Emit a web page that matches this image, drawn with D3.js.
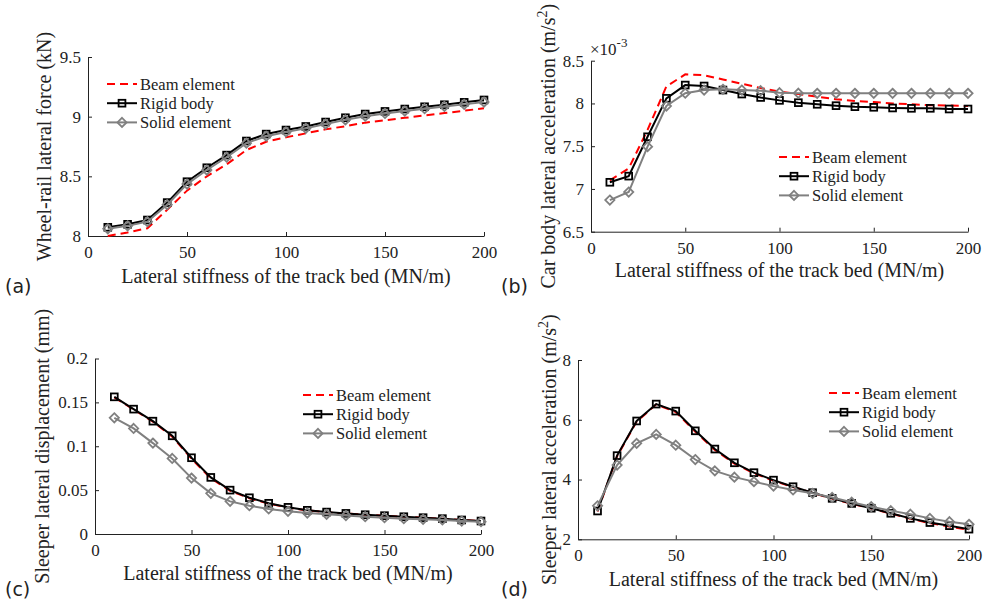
<!DOCTYPE html>
<html>
<head>
<meta charset="utf-8">
<script src="https://cdn.jsdelivr.net/npm/d3@7"></script>
<style>
  html, body { margin: 0; padding: 0; background: #fff; }
  svg { display: block; }
</style>
</head>
<body>
<svg id="chart" width="988" height="602"></svg>
<script>
// ---------------- data ----------------
const stiffness = [10,20,30,40,50,60,70,80,90,100,110,120,130,140,150,160,170,180,190,200];
const seriesNames = ["Beam element", "Rigid body", "Solid element"];

// (a) Wheel-rail lateral force (kN)
const forceBeam  = [8.00,8.03,8.065,8.22,8.38,8.50,8.60,8.72,8.79,8.827,8.86,8.894,8.92,8.95,8.97,8.99,9.01,9.03,9.05,9.07];
const forceRigid = [8.073,8.098,8.134,8.28,8.455,8.572,8.678,8.796,8.854,8.888,8.918,8.955,8.991,9.022,9.044,9.064,9.083,9.10,9.12,9.14];
const forceSolid = [8.06,8.085,8.12,8.262,8.435,8.553,8.66,8.778,8.836,8.872,8.902,8.938,8.973,9.004,9.027,9.047,9.067,9.086,9.103,9.122];
const forceTicks = [8, 8.5, 9, 9.5];

// (b) Car body lateral acceleration (x10^-3 m/s^2)
const carBeam  = [7.10,7.24,7.69,8.20,8.34,8.33,8.28,8.23,8.18,8.14,8.11,8.08,8.05,8.03,8.017,8.00,7.99,7.98,7.975,7.97];
const carRigid = [7.078,7.15,7.61,8.06,8.215,8.204,8.157,8.11,8.07,8.036,8.009,7.99,7.974,7.962,7.955,7.947,7.943,7.943,7.935,7.935];
const carSolid = [6.87,6.964,7.495,7.97,8.12,8.157,8.165,8.157,8.149,8.126,8.12,8.118,8.118,8.118,8.118,8.118,8.118,8.118,8.118,8.118];
const carTicks = [6.5, 7, 7.5, 8, 8.5];

// (c) Sleeper lateral displacement (mm)
const dispBeam  = [0.1558,0.1418,0.1280,0.1110,0.0858,0.0635,0.0493,0.0408,0.0346,0.0301,0.0268,0.0248,0.0233,0.0219,0.0208,0.0196,0.0185,0.0174,0.0159,0.0147];
const dispRigid = [0.1563,0.1423,0.1286,0.1119,0.0869,0.0645,0.0500,0.0413,0.0350,0.0304,0.0270,0.0250,0.0235,0.0220,0.0209,0.0197,0.0186,0.0175,0.0160,0.0148];
const dispSolid = [0.1324,0.1203,0.1036,0.0861,0.0637,0.0463,0.0372,0.0322,0.0285,0.0258,0.0239,0.0224,0.0210,0.0197,0.0186,0.0175,0.0167,0.0160,0.0148,0.0140];
const dispTicks = [0, 0.05, 0.1, 0.15, 0.2];

// (d) Sleeper lateral acceleration (m/s^2)
const slpBeam  = [2.93,4.78,5.94,6.51,6.26,5.60,4.99,4.53,4.21,3.96,3.75,3.55,3.36,3.19,3.03,2.86,2.69,2.54,2.43,2.31];
const slpRigid = [2.947,4.80,5.96,6.525,6.29,5.63,5.02,4.56,4.23,3.98,3.76,3.56,3.37,3.20,3.04,2.87,2.70,2.56,2.455,2.34];
const slpSolid = [3.12,4.485,5.21,5.51,5.15,4.67,4.29,4.08,3.93,3.78,3.65,3.54,3.40,3.24,3.09,2.96,2.84,2.70,2.59,2.50];
const slpTicks = [2, 4, 6, 8];

const xTicks = [0, 50, 100, 150, 200];
const xLabel = "Lateral stiffness of the track bed (MN/m)";

// ---------------- drawing ----------------
const SERIF = "'Liberation Serif', 'Times New Roman', serif";
const svg = d3.select("#chart");
const fmt = d => String(+d.toFixed(3));

const styles = [
  {color: "#ff0000", width: 2, dash: "8,5", marker: null},
  {color: "#000000", width: 2, dash: null, marker: "square"},
  {color: "#808080", width: 2, dash: null, marker: "diamond"}
];

function marker(g, type, x, y, color) {
  if (type === "square") {
    g.append("rect").attr("x", x - 3.4).attr("y", y - 3.4).attr("width", 6.8).attr("height", 6.8)
      .attr("fill", "none").attr("stroke", color).attr("stroke-width", 1.8);
  } else if (type === "diamond") {
    const s = 4.6;
    g.append("path").attr("d", `M${x},${y - s}L${x + s},${y}L${x},${y + s}L${x - s},${y}Z`)
      .attr("fill", "none").attr("stroke", color).attr("stroke-width", 1.8);
  }
}

function txt(sel) { return sel.style("font-family", SERIF).attr("fill", "#222"); }

function panel(cfg) {
  const g = svg.append("g");
  const x = d3.scaleLinear().domain([0, 200]).range(cfg.xr);
  const y = d3.scaleLinear().domain(cfg.yd).range(cfg.yr);

  // axes (ticks inside)
  const xa = g.append("g").attr("transform", `translate(0,${cfg.yr[0]})`)
    .call(d3.axisBottom(x).tickValues(xTicks).tickFormat(fmt).tickSizeInner(-4).tickSizeOuter(0).tickPadding(10));
  const ya = g.append("g").attr("transform", `translate(${cfg.xr[0]},0)`)
    .call(d3.axisLeft(y).tickValues(cfg.ticks).tickFormat(fmt).tickSizeInner(-4).tickSizeOuter(0).tickPadding(7));
  [xa, ya].forEach(a => {
    a.attr("font-family", null).attr("font-size", null);
    a.select(".domain").attr("stroke", "#222").attr("stroke-width", 1);
    a.selectAll(".tick line").attr("stroke", "#222");
    txt(a.selectAll(".tick text")).style("font-size", "17px");
  });

  // series
  const line = d3.line().x((d, i) => x(stiffness[i])).y(d => y(d));
  cfg.series.forEach((vals, k) => {
    const st = styles[k];
    g.append("path").datum(vals).attr("d", line).attr("fill", "none")
      .attr("stroke", st.color).attr("stroke-width", st.width)
      .attr("stroke-dasharray", st.dash);
    if (st.marker) vals.forEach((v, i) => marker(g, st.marker, x(stiffness[i]), y(v), st.color));
  });

  // legend
  seriesNames.forEach((name, k) => {
    const st = styles[k];
    const ly = cfg.leg[1] + k * 19.2;
    const lx = cfg.leg[0];
    g.append("line").attr("x1", lx).attr("x2", lx + 30).attr("y1", ly).attr("y2", ly)
      .attr("stroke", st.color).attr("stroke-width", st.width).attr("stroke-dasharray", st.dash);
    if (st.marker) marker(g, st.marker, lx + 15, ly, st.color);
    txt(g.append("text")).attr("x", lx + 33).attr("y", ly + 5.5).style("font-size", "16.5px").text(name);
  });

  // x label
  txt(g.append("text")).attr("x", (cfg.xr[0] + cfg.xr[1]) / 2).attr("y", cfg.yr[0] + cfg.xlOff)
    .attr("text-anchor", "middle").style("font-size", "20px").text(xLabel);

  // y label
  const yl = txt(g.append("text")).attr("transform", `translate(${cfg.ylx},${(cfg.yr[0] + cfg.yr[1]) / 2}) rotate(-90)`)
    .attr("text-anchor", "middle").style("font-size", "20px");
  yl.append("tspan").text(cfg.ylabel[0]);
  if (cfg.ylabel.length > 1) {
    yl.append("tspan").attr("dy", -8).style("font-size", "14px").text(cfg.ylabel[1]);
    yl.append("tspan").attr("dy", 8).text(cfg.ylabel[2]);
  }

  // panel tag
  g.append("text").attr("x", cfg.tag[0]).attr("y", cfg.tag[1])
    .style("font-size", "19px").style("font-family", "'DejaVu Sans', 'Noto Sans', sans-serif")
    .attr("fill", "#222").text(cfg.tagText);
  return {g, x, y};
}

panel({xr: [88, 484], yr: [236, 57], yd: [8, 9.5], ticks: forceTicks,
  series: [forceBeam, forceRigid, forceSolid], leg: [107, 84],
  ylabel: ["Wheel-rail lateral force (kN)"], ylx: 51, xlOff: 47, tag: [5, 293], tagText: "(a)"});

const pb = panel({xr: [591, 968], yr: [231.7, 60.7], yd: [6.5, 8.5], ticks: carTicks,
  series: [carBeam, carRigid, carSolid], leg: [779, 157],
  ylabel: ["Car body lateral acceleration (m/s", "2", ")"], ylx: 555, xlOff: 45, tag: [501, 293], tagText: "(b)"});
// exponent label for (b)
const ex = txt(pb.g.append("text")).attr("x", 590).attr("y", 55).style("font-size", "17px");
ex.append("tspan").text("\u00d710");
ex.append("tspan").attr("dy", -8).style("font-size", "13px").text("-3");

panel({xr: [95, 481], yr: [534, 358.5], yd: [0, 0.2], ticks: dispTicks,
  series: [dispBeam, dispRigid, dispSolid], leg: [303, 395],
  ylabel: ["Sleeper lateral displacement (mm)"], ylx: 49, xlOff: 46, tag: [5, 596], tagText: "(c)"});

panel({xr: [578, 969], yr: [539.3, 360], yd: [2, 8], ticks: slpTicks,
  series: [slpBeam, slpRigid, slpSolid], leg: [829, 393],
  ylabel: ["Sleeper lateral acceleration (m/s", "2", ")"], ylx: 556, xlOff: 47, tag: [501, 596], tagText: "(d)"});
</script>
</body>
</html>
